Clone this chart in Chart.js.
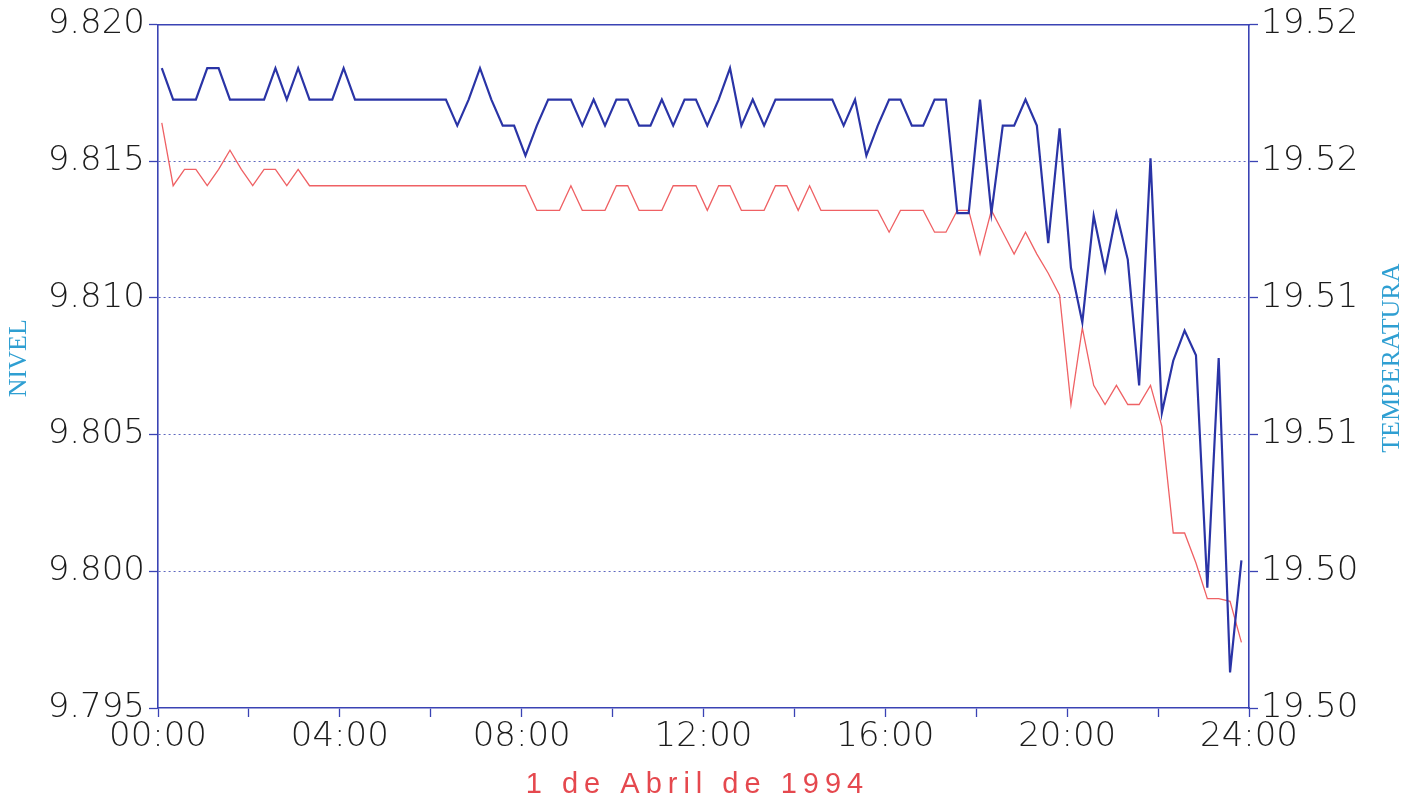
<!DOCTYPE html>
<html>
<head>
<meta charset="utf-8">
<title>Nivel y temperatura - 1 de Abril de 1994</title>
<script src="https://cdn.jsdelivr.net/npm/chart.js@4.4.1/dist/chart.umd.min.js"></script>
<style>
  html, body { margin: 0; padding: 0; background: #ffffff; }
  #wrap { width: 1427px; height: 808px; position: relative; }
</style>
</head>
<body>
<div id="wrap"><canvas id="chart" width="1427" height="808"></canvas></div>
<script>
// Readings every 15 minutes, starting at 00:05
const FIRST_SAMPLE_MIN = 5;
const SAMPLE_STEP_MIN = 15;

// NIVEL (left axis)
const nivel = [
  9.8184, 9.81725, 9.81725, 9.81725, 9.8184, 9.8184, 9.81725, 9.81725, 9.81725, 9.81725,
  9.8184, 9.81725, 9.8184, 9.81725, 9.81725, 9.81725, 9.8184, 9.81725, 9.81725, 9.81725,
  9.81725, 9.81725, 9.81725, 9.81725, 9.81725, 9.81725, 9.8163, 9.81725, 9.8184, 9.81725,
  9.8163, 9.8163, 9.8152, 9.8163, 9.81725, 9.81725, 9.81725, 9.8163, 9.81725, 9.8163,
  9.81725, 9.81725, 9.8163, 9.8163, 9.81725, 9.8163, 9.81725, 9.81725, 9.8163, 9.81725,
  9.8184, 9.8163, 9.81725, 9.8163, 9.81725, 9.81725, 9.81725, 9.81725, 9.81725, 9.81725,
  9.8163, 9.81725, 9.8152, 9.8163, 9.81725, 9.81725, 9.8163, 9.8163, 9.81725, 9.81725,
  9.8131, 9.8131, 9.81725, 9.8131, 9.8163, 9.8163, 9.81725, 9.8163, 9.8120, 9.8162,
  9.8111, 9.8091, 9.8130, 9.8110, 9.8131, 9.8114, 9.8068, 9.8151, 9.8058, 9.8077,
  9.8088, 9.8079, 9.7994, 9.8078, 9.7963, 9.8004
];

// TEMPERATURA (right axis)
const temperatura = [
  19.5164, 19.5141, 19.5147, 19.5147, 19.5141, 19.5147, 19.5154, 19.5147, 19.5141, 19.5147,
  19.5147, 19.5141, 19.5147, 19.5141, 19.5141, 19.5141, 19.5141, 19.5141, 19.5141, 19.5141,
  19.5141, 19.5141, 19.5141, 19.5141, 19.5141, 19.5141, 19.5141, 19.5141, 19.5141, 19.5141,
  19.5141, 19.5141, 19.5141, 19.5132, 19.5132, 19.5132, 19.5141, 19.5132, 19.5132, 19.5132,
  19.5141, 19.5141, 19.5132, 19.5132, 19.5132, 19.5141, 19.5141, 19.5141, 19.5132, 19.5141,
  19.5141, 19.5132, 19.5132, 19.5132, 19.5141, 19.5141, 19.5132, 19.5141, 19.5132, 19.5132,
  19.5132, 19.5132, 19.5132, 19.5132, 19.5124, 19.5132, 19.5132, 19.5132, 19.5124, 19.5124,
  19.5132, 19.5132, 19.5116, 19.5132, 19.5124, 19.5116, 19.5124, 19.5116, 19.5109, 19.5101,
  19.5061, 19.5089, 19.5068, 19.5061, 19.5068, 19.5061, 19.5061, 19.5068, 19.5053, 19.5014,
  19.5014, 19.5003, 19.4990, 19.4990, 19.4989, 19.4974
];

// Axis ticks and their labels
const TIME_LABELS = ['00:00', '04:00', '08:00', '12:00', '16:00', '20:00', '24:00'];
const LEFT_TICKS = [9.795, 9.800, 9.805, 9.810, 9.815, 9.820];
const LEFT_TICK_LABELS = ['9.795', '9.800', '9.805', '9.810', '9.815', '9.820'];
const RIGHT_TICKS = [19.495, 19.500, 19.505, 19.510, 19.515, 19.520];
const RIGHT_TICK_LABELS = ['19.50', '19.50', '19.51', '19.51', '19.52', '19.52'];

const LEFT_TITLE = 'NIVEL';
const RIGHT_TITLE = 'TEMPERATURA';
const X_TITLE = '1 de Abril de 1994';

// Styling
const AXIS_BLUE = '#3a43b4';
const GRID_BLUE = '#5f68bf';
const LINE_BLUE = '#2a34a6';
const LINE_RED = '#ef6164';
const CAPTION_CYAN = '#2f9fd2';
const CAPTION_RED = '#e5484e';
const TICK_TEXT = '#1c1c1c';
const TICK_FONT = { family: '"DejaVu Sans", sans-serif', size: 34, weight: '300' };
const CAPTION_SERIF = '26px "Liberation Serif", serif';

// Fixed plot frame inside the 1427 x 808 canvas
const FRAME = { left: 158, right: 1249, top: 20, bottom: 708, width: 1427, height: 808 };

const hours = nivel.map((_, i) => (FIRST_SAMPLE_MIN + i * SAMPLE_STEP_MIN) / 60);

// Axis captions: both vertical captions read bottom to top; the date sits under the time axis
const captions = {
  id: 'captions',
  afterDraw(chart) {
    const { ctx, chartArea } = chart;
    const midY = (chartArea.top + chartArea.bottom) / 2 - 8;

    const vertical = (text, x) => {
      ctx.save();
      ctx.fillStyle = CAPTION_CYAN;
      ctx.font = CAPTION_SERIF;
      ctx.textAlign = 'center';
      ctx.textBaseline = 'middle';
      ctx.translate(x, midY);
      ctx.rotate(-Math.PI / 2);
      ctx.fillText(text, 0, 0);
      ctx.restore();
    };
    vertical(LEFT_TITLE, 19);
    vertical(RIGHT_TITLE, 1392);

    ctx.save();
    ctx.fillStyle = CAPTION_RED;
    ctx.font = '29px "Liberation Sans Narrow", "Liberation Sans", sans-serif';
    if ('letterSpacing' in ctx) ctx.letterSpacing = '6px';
    ctx.textAlign = 'center';
    ctx.textBaseline = 'middle';
    ctx.fillText(X_TITLE, (chartArea.left + chartArea.right) / 2 - 6, 785);
    ctx.restore();
  }
};

new Chart(document.getElementById('chart'), {
  type: 'line',
  data: {
    datasets: [
      {
        label: LEFT_TITLE,
        data: nivel.map((v, i) => ({ x: hours[i], y: v })),
        yAxisID: 'y',
        borderColor: LINE_BLUE,
        borderWidth: 2.2,
        pointRadius: 0,
        tension: 0,
        order: 1
      },
      {
        label: RIGHT_TITLE,
        data: temperatura.map((v, i) => ({ x: hours[i], y: v })),
        yAxisID: 'y1',
        borderColor: LINE_RED,
        borderWidth: 1.3,
        pointRadius: 0,
        tension: 0,
        order: 2
      }
    ]
  },
  options: {
    responsive: false,
    animation: false,
    devicePixelRatio: 1,
    layout: { padding: 0 },
    plugins: { legend: { display: false }, tooltip: { enabled: false }, title: { display: false } },
    scales: {
      x: {
        type: 'linear',
        position: 'bottom',
        min: 0,
        max: 24,
        afterFit(s) { s.height = FRAME.height - FRAME.bottom; },
        ticks: {
          stepSize: 2,
          autoSkip: false,
          maxRotation: 0,
          padding: 0,
          color: TICK_TEXT,
          font: TICK_FONT,
          callback: (v) => (v % 4 === 0 ? TIME_LABELS[v / 4] : '')
        },
        grid: { drawOnChartArea: false, drawTicks: true, tickLength: 9, tickColor: AXIS_BLUE, tickWidth: 1.3 },
        border: { color: AXIS_BLUE, width: 1.6 }
      },
      xTop: {
        type: 'linear',
        position: 'top',
        min: 0,
        max: 24,
        afterFit(s) { s.height = FRAME.top; },
        ticks: { display: false },
        grid: { drawOnChartArea: false, drawTicks: false },
        border: { color: AXIS_BLUE, width: 1.6 }
      },
      y: {
        type: 'linear',
        position: 'left',
        min: LEFT_TICKS[0],
        max: LEFT_TICKS[LEFT_TICKS.length - 1],
        afterFit(s) { s.width = FRAME.left; },
        afterBuildTicks(s) { s.ticks = LEFT_TICKS.map((value) => ({ value })); },
        ticks: {
          padding: 4,
          color: TICK_TEXT,
          font: TICK_FONT,
          callback: (v, i) => LEFT_TICK_LABELS[i]
        },
        grid: {
          drawOnChartArea: true,
          drawTicks: true,
          tickLength: 9,
          tickColor: AXIS_BLUE,
          tickWidth: 1.3,
          lineWidth: 1,
          color: (c) => (c.index === 0 || c.index === LEFT_TICKS.length - 1 ? 'rgba(0,0,0,0)' : GRID_BLUE)
        },
        border: { color: AXIS_BLUE, width: 1.6, dash: [2, 3] }
      },
      y1: {
        type: 'linear',
        position: 'right',
        min: RIGHT_TICKS[0],
        max: RIGHT_TICKS[RIGHT_TICKS.length - 1],
        afterFit(s) { s.width = FRAME.width - FRAME.right; },
        afterBuildTicks(s) { s.ticks = RIGHT_TICKS.map((value) => ({ value })); },
        ticks: {
          padding: 3,
          color: TICK_TEXT,
          font: TICK_FONT,
          callback: (v, i) => RIGHT_TICK_LABELS[i]
        },
        grid: { drawOnChartArea: false, drawTicks: true, tickLength: 9, tickColor: AXIS_BLUE, tickWidth: 1.3 },
        border: { color: AXIS_BLUE, width: 1.6 }
      }
    }
  },
  plugins: [captions]
});
</script>
</body>
</html>
